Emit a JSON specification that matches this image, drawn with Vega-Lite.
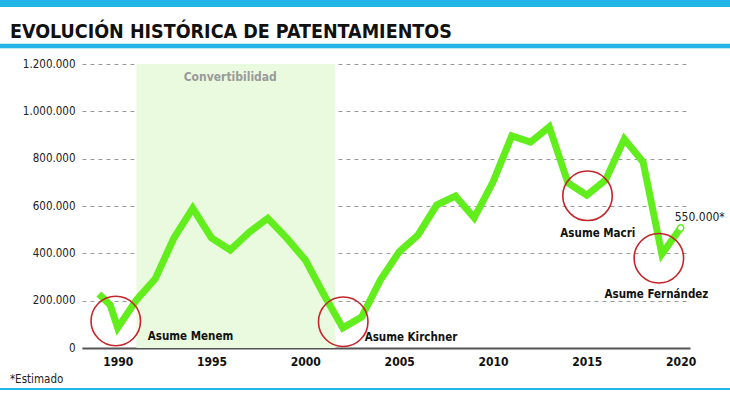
{
  "$schema": "https://vega.github.io/schema/vega-lite/v6.json",
  "width": 608,
  "height": 284,
  "autosize": "none",
  "padding": {"left": 82, "top": 64, "right": 40, "bottom": 46},
  "background": "white",
  "config": {
    "view": {"stroke": null},
    "font": "DejaVu Sans Condensed, Roboto, sans-serif",
    "locale": {"number": {"decimal": ",", "thousands": ".", "grouping": [3], "currency": ["$", ""]}}
  },
  "datasets": {
    "series": [
      {"year": 1989, "units": 228000},
      {"year": 1989.6, "units": 182000},
      {"year": 1990, "units": 85000},
      {"year": 1991, "units": 203000},
      {"year": 1992, "units": 292000},
      {"year": 1993, "units": 465000},
      {"year": 1994, "units": 590000},
      {"year": 1995, "units": 465000},
      {"year": 1996, "units": 414000},
      {"year": 1997, "units": 488000},
      {"year": 1998, "units": 548000},
      {"year": 1999, "units": 465000},
      {"year": 2000, "units": 372000},
      {"year": 2001, "units": 224000},
      {"year": 2002, "units": 85000},
      {"year": 2003, "units": 131000},
      {"year": 2004, "units": 287000},
      {"year": 2005, "units": 406000},
      {"year": 2006, "units": 477000},
      {"year": 2007, "units": 604000},
      {"year": 2008, "units": 642000},
      {"year": 2009, "units": 550000},
      {"year": 2010, "units": 701000},
      {"year": 2011, "units": 896000},
      {"year": 2012, "units": 870000},
      {"year": 2013, "units": 934000},
      {"year": 2014, "units": 697000},
      {"year": 2015, "units": 646000},
      {"year": 2016, "units": 710000},
      {"year": 2017, "units": 883000},
      {"year": 2018, "units": 786000},
      {"year": 2019, "units": 397000},
      {"year": 2020, "units": 507000}
    ],
    "circles": [
      {"year": 1989.9, "units": 114000},
      {"year": 2002.02, "units": 111000},
      {"year": 2015.04, "units": 643000},
      {"year": 2018.84, "units": 379000}
    ],
    "labels": [
      {"year": 1993.88, "units": 46000, "label": "Asume Menem"},
      {"year": 2005.63, "units": 42000, "label": "Asume Kirchner"},
      {"year": 2015.59, "units": 482000, "label": "Asume Macri"},
      {"year": 2018.71, "units": 224000, "label": "Asume Fernández"}
    ]
  },
  "layer": [
    {
      "data": {"values": [{"start": 1991, "end": 2001.6, "lo": 0, "hi": 1200000}]},
      "mark": {"type": "rect", "color": "#eafadf"},
      "encoding": {
        "x": {"field": "start", "type": "quantitative", "scale": {"domain": [1988.1, 2020.5], "nice": false, "zero": false}},
        "x2": {"field": "end"},
        "y": {"field": "lo", "type": "quantitative", "scale": {"domain": [0, 1200000], "nice": false}},
        "y2": {"field": "hi"}
      }
    },
    {
      "data": {"values": [{"year": 1996, "units": 1146000, "label": "Convertibilidad"}]},
      "mark": {"type": "text", "fontWeight": "bold", "fontSize": 12, "color": "#9a9a9a", "align": "center", "baseline": "middle"},
      "encoding": {
        "x": {"field": "year", "type": "quantitative"},
        "y": {"field": "units", "type": "quantitative"},
        "text": {"field": "label"}
      }
    },
    {
      "data": {"name": "series"},
      "mark": {"type": "line", "color": "#62ee1c", "strokeWidth": 7, "strokeJoin": "miter", "strokeCap": "butt"},
      "encoding": {
        "x": {
          "field": "year", "type": "quantitative",
          "axis": {
            "title": null, "values": [1990, 1995, 2000, 2005, 2010, 2015, 2020], "format": "d",
            "grid": false, "ticks": false, "domainColor": "#555555", "domainWidth": 2,
            "labelFontWeight": "bold", "labelFontSize": 12,
            "labelColor": "#111111", "labelPadding": 8
          }
        },
        "y": {
          "field": "units", "type": "quantitative",
          "axis": {
            "title": null, "values": [0, 200000, 400000, 600000, 800000, 1000000, 1200000], "format": ",d",
            "domain": false, "ticks": false, "grid": true, "gridDash": [4, 4], "gridColor": "#9a9a9a", "gridWidth": 1,
            "labelFontSize": 11.5, "labelColor": "#222222", "labelPadding": 7
          }
        }
      }
    },
    {
      "data": {"values": [{"year": 2020, "units": 507000}]},
      "mark": {"type": "point", "filled": true, "fill": "white", "stroke": "#62ee1c", "strokeWidth": 1.5, "size": 40, "opacity": 1},
      "encoding": {
        "x": {"field": "year", "type": "quantitative"},
        "y": {"field": "units", "type": "quantitative"}
      }
    },
    {
      "data": {"name": "circles"},
      "mark": {"type": "point", "filled": false, "stroke": "#c3262b", "strokeWidth": 1.6, "size": 2450, "opacity": 1},
      "encoding": {
        "x": {"field": "year", "type": "quantitative"},
        "y": {"field": "units", "type": "quantitative"}
      }
    },
    {
      "data": {"name": "labels"},
      "mark": {"type": "text", "fontWeight": "bold", "fontSize": 11.5, "color": "#111111", "align": "center", "baseline": "middle"},
      "encoding": {
        "x": {"field": "year", "type": "quantitative"},
        "y": {"field": "units", "type": "quantitative"},
        "text": {"field": "label"}
      }
    },
    {
      "data": {"values": [{"year": 2021.02, "units": 553000, "label": "550.000*"}]},
      "mark": {"type": "text", "fontSize": 12, "color": "#222222", "align": "center", "baseline": "middle"},
      "encoding": {
        "x": {"field": "year", "type": "quantitative"},
        "y": {"field": "units", "type": "quantitative"},
        "text": {"field": "label"}
      }
    },
    {
      "data": {"values": [{"year": 1984.26, "units": -135000, "label": "*Estimado"}]},
      "mark": {"type": "text", "fontSize": 11.5, "color": "#222222", "align": "left", "baseline": "middle"},
      "encoding": {
        "x": {"field": "year", "type": "quantitative"},
        "y": {"field": "units", "type": "quantitative"},
        "text": {"field": "label"}
      }
    },
    {
      "data": {"values": [{"year": 1984.26, "units": 1335000, "label": "EVOLUCIÓN HISTÓRICA DE PATENTAMIENTOS"}]},
      "mark": {"type": "text", "fontSize": 19.5, "fontWeight": "bold", "color": "#111111", "align": "left", "baseline": "middle"},
      "encoding": {
        "x": {"field": "year", "type": "quantitative"},
        "y": {"field": "units", "type": "quantitative"},
        "text": {"field": "label"}
      }
    },
    {
      "data": {"values": [
        {"from": 1983.6, "to": 2022.8, "level": 1455600, "w": "top"},
        {"from": 1983.6, "to": 2022.8, "level": 1276000, "w": "mid"},
        {"from": 1983.6, "to": 2022.8, "level": -173000, "w": "bottom"}
      ]},
      "mark": {"type": "rule", "color": "#22b5e8"},
      "encoding": {
        "x": {"field": "from", "type": "quantitative"},
        "x2": {"field": "to"},
        "y": {"field": "level", "type": "quantitative"},
        "strokeWidth": {"field": "w", "type": "nominal", "scale": {"domain": ["top", "mid", "bottom"], "range": [7, 2, 3]}, "legend": null}
      }
    }
  ]
}
